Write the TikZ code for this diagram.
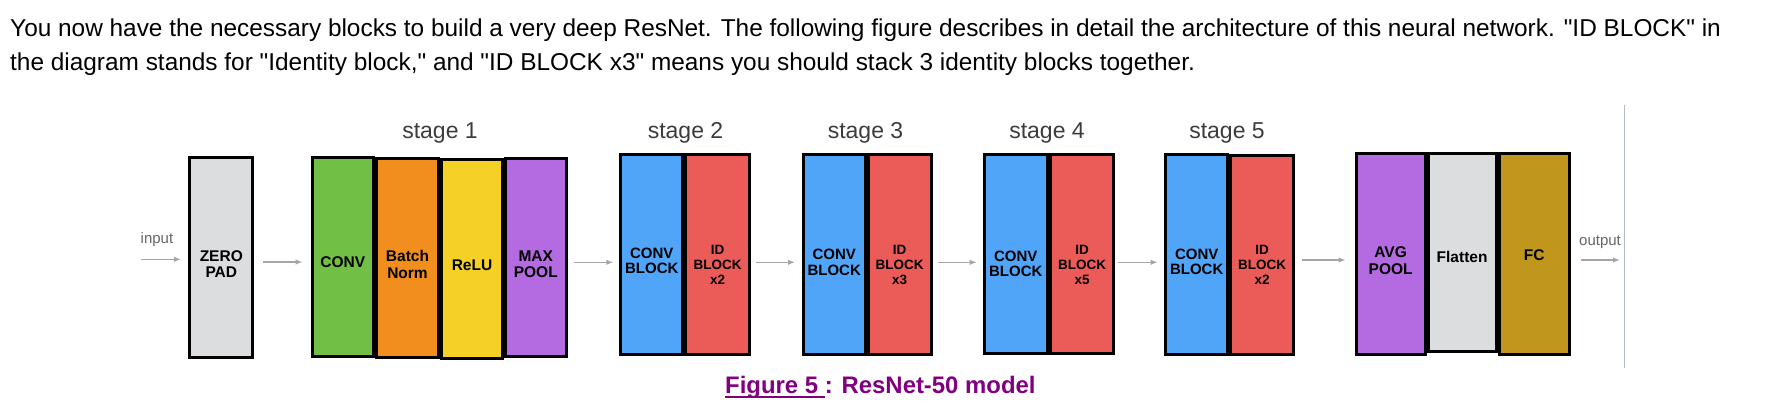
\documentclass[tikz,border=0pt]{standalone}
\usepackage{fontspec}
\setmainfont{Liberation Sans}[Ligatures=TeXOff]
\usetikzlibrary{arrows.meta}
\definecolor{padgray}{HTML}{DCDDDF}
\definecolor{convgreen}{HTML}{71BF45}
\definecolor{bnorange}{HTML}{F18E1D}
\definecolor{reluyellow}{HTML}{F5D128}
\definecolor{poolpurple}{HTML}{B46BE1}
\definecolor{convblue}{HTML}{50A5F9}
\definecolor{idred}{HTML}{EB5C58}
\definecolor{fcgold}{HTML}{C1961D}
\definecolor{arrowgray}{HTML}{A3A7AB}
\definecolor{sepgray}{HTML}{B4BCC4}
\definecolor{stagegray}{HTML}{3C3C3C}
\definecolor{iogray}{HTML}{666666}
\definecolor{figpurple}{HTML}{800080}
\newcommand\figul[1]{\setbox0\hbox{#1}\rlap{\rule[-4.6pt]{\wd0}{2pt}}\box0}
\begin{document}
\begin{tikzpicture}[x=1pt,y=-1pt,
  blockbox/.style={draw=black, line width=3pt, inner sep=0pt, outer sep=0pt, anchor=north west},
  blocktext/.style={align=center, inner sep=0pt, font=\fontsize{15.5}{16.5}\selectfont\bfseries},
  cbtext/.style={align=center, inner sep=0pt, font=\fontsize{15}{15.4}\selectfont\bfseries},
  idtext/.style={align=center, inner sep=0pt, font=\fontsize{13.5}{15}\selectfont\bfseries},
  stagelabel/.style={anchor=base, inner sep=0pt, text=stagegray, font=\fontsize{23}{23}\selectfont},
  iolabel/.style={anchor=base, inner sep=0pt, text=iogray, font=\fontsize{15}{15}\selectfont},
  flow/.style={draw=arrowgray, line width=1.4pt, -{Latex[length=7pt,width=5.5pt]}},
  introtext/.style={anchor=base west, inner sep=0pt, font=\fontsize{24.4}{24.4}\selectfont}
]
\useasboundingbox (0,0) rectangle (1776,409);

% intro text
\node[introtext] (intro1) at (10,36.7) {You now have the necessary blocks to build a very deep ResNet. The following figure describes in detail the architecture of this neural network. "ID BLOCK" in};
\node[introtext] (intro2) at (10,71) {the diagram stands for "Identity block," and "ID BLOCK x3" means you should stack 3 identity blocks together.};

% stage labels
\node[stagelabel] (st1) at (440,138.3) {stage 1};
\node[stagelabel] (st2) at (685.5,138.3) {stage 2};
\node[stagelabel] (st3) at (865.5,138.3) {stage 3};
\node[stagelabel] (st4) at (1047,138.3) {stage 4};
\node[stagelabel] (st5) at (1227,138.3) {stage 5};

% boxes
\node[blockbox, fill=padgray, minimum width=63pt, minimum height=200.3pt] (zp) at (189.8,157.2) {};
\node[blockbox, fill=convgreen, minimum width=61.3pt, minimum height=199pt] (cv) at (312.2,157.2) {};
\node[blockbox, fill=bnorange, minimum width=62pt, minimum height=199pt] (bn) at (376.5,158.2) {};
\node[blockbox, fill=reluyellow, minimum width=61pt, minimum height=199pt] (rl) at (441.5,159.5) {};
\node[blockbox, fill=poolpurple, minimum width=60.7pt, minimum height=198pt] (mp) at (505.5,158.2) {};

\node[blockbox, fill=convblue, minimum width=62pt, minimum height=199.7pt] (s2c) at (620.8,154.8) {};
\node[blockbox, fill=idred, minimum width=63.4pt, minimum height=199.7pt] (s2i) at (685.8,154.8) {};
\node[blockbox, fill=convblue, minimum width=62pt, minimum height=200.3pt] (s3c) at (803.2,154.2) {};
\node[blockbox, fill=idred, minimum width=63pt, minimum height=199.7pt] (s3i) at (868.2,154.8) {};
\node[blockbox, fill=convblue, minimum width=63.3pt, minimum height=199.6pt] (s4c) at (984.2,154.2) {};
\node[blockbox, fill=idred, minimum width=63pt, minimum height=199.6pt] (s4i) at (1050.5,154.2) {};
\node[blockbox, fill=convblue, minimum width=62.3pt, minimum height=199.7pt] (s5c) at (1165.5,154.8) {};
\node[blockbox, fill=idred, minimum width=62.7pt, minimum height=198.7pt] (s5i) at (1230.8,155.8) {};

\node[blockbox, fill=poolpurple, minimum width=69.2pt, minimum height=201.2pt] (ap) at (1356,153) {};
\node[blockbox, fill=padgray, minimum width=67.8pt, minimum height=198.8pt] (fl) at (1428.2,153) {};
\node[blockbox, fill=fcgold, minimum width=70.2pt, minimum height=201.2pt] (fc) at (1499,153) {};

% box texts
\node[blocktext] (zpt) at (221.3,264) {ZERO\\PAD};
\node[blocktext] (cvt) at (342.8,262) {CONV};
\node[blocktext] (bnt) at (407.5,264.3) {Batch\\Norm};
\node[blocktext] (rlt) at (472,265) {ReLU};
\node[blocktext] (mpt) at (535.8,264) {MAX\\POOL};
\node[cbtext] (s2ct) at (651.8,261) {CONV\\BLOCK};
\node[idtext] (s2it) at (717.5,265) {ID\\BLOCK\\x2};
\node[cbtext] (s3ct) at (834.2,262.3) {CONV\\BLOCK};
\node[idtext] (s3it) at (899.7,265) {ID\\BLOCK\\x3};
\node[cbtext] (s4ct) at (1015.8,264) {CONV\\BLOCK};
\node[idtext] (s4it) at (1082,265) {ID\\BLOCK\\x5};
\node[cbtext] (s5ct) at (1196.7,262) {CONV\\BLOCK};
\node[idtext] (s5it) at (1262.2,265) {ID\\BLOCK\\x2};
\node[blocktext] (apt) at (1390.6,260.7) {AVG\\POOL};
\node[blocktext] (flt) at (1462.1,257.3) {Flatten};
\node[blocktext] (fct) at (1534.1,255) {FC};

% input / output
\node[iolabel] (inl) at (157,243.3) {input};
\node[iolabel] (outl) at (1600,245) {output};
\coordinate (inp) at (140.7,259.3);
\coordinate (outp) at (1620,260);
\coordinate (rowA) at (0,262.3);
\coordinate (rowB) at (0,262);
\coordinate (rowC) at (0,260);

% connectors
\draw[flow, shorten >=8.8pt] (inp) -- (zp.west |- inp);
\draw[flow, shorten <=10.5pt, shorten >=9.5pt] (zp.east |- rowB) -- (cv.west |- rowB);
\draw[flow, shorten <=7.8pt, shorten >=7.5pt] (mp.east |- rowA) -- (s2c.west |- rowA);
\draw[flow, shorten <=6.8pt, shorten >=8.2pt] (s2i.east |- rowA) -- (s3c.west |- rowA);
\draw[flow, shorten <=7.1pt, shorten >=7.5pt] (s3i.east |- rowA) -- (s4c.west |- rowA);
\draw[flow, shorten <=4.8pt, shorten >=7.8pt] (s4i.east |- rowA) -- (s5c.west |- rowA);
\draw[flow, shorten <=8.2pt, shorten >=10.3pt] (s5i.east |- rowC) -- (ap.west |- rowC);
\draw[flow, shorten <=11.5pt] (fc.east |- outp) -- (outp);

% separator line
\draw[draw=sepgray, line width=1.5pt] (1624.3,105) -- (1624.3,367.7);

% caption
\node[anchor=base, inner sep=0pt, text=figpurple, font=\fontsize{23.9}{23.9}\selectfont\bfseries] (cap) at (880.4,393) {\figul{Figure 5 }: ResNet-50 model};
\end{tikzpicture}
\end{document}
